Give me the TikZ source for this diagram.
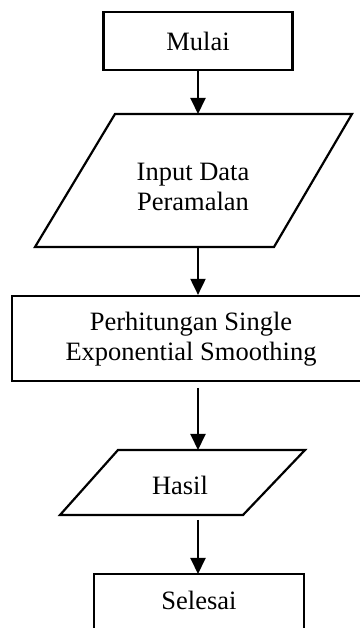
\documentclass[tikz,border=0pt]{standalone}
\usepackage{fontspec}
\setmainfont{Liberation Serif}
\usetikzlibrary{arrows.meta}
\begin{document}
\begin{tikzpicture}[x=1pt,y=1pt,
  shape line/.style={draw=black, line width=2.2pt, line join=miter},
  boxnode/.style={shape line, rectangle, inner sep=0pt, align=center},
  txt/.style={inner sep=0pt, align=center, font=\fontsize{26.5}{30}\selectfont},
  conn/.style={line width=2pt, -{Triangle[length=16pt,width=15pt]}}]
\useasboundingbox (0,0) rectangle (359,628);
% Mulai
\node[boxnode, minimum width=189pt, minimum height=58pt] (mulai) at (198,587) {};
\node[txt] (tmulai) at (198,587) {Mulai};
% Input Data Peramalan
\draw[shape line] (115,514) -- (352,514) -- (274,381) -- (35,381) -- cycle;
\coordinate (inT) at (198,514);
\coordinate (inB) at (198,381);
\node[txt] (tinput) at (193,441) {Input Data\\Peramalan};
% Perhitungan
\node[boxnode, minimum width=373pt, minimum height=85pt] (hitung) at (198.5,289.5) {};
\node[txt] (thitung) at (191,289) {Perhitungan Single\\Exponential Smoothing};
\coordinate (hB) at (198,240);
% Hasil
\draw[shape line] (118,178) -- (305,178) -- (243,113) -- (60,113) -- cycle;
\coordinate (hsT) at (198,178);
\coordinate (hsB) at (198,108);
\node[txt, anchor=base] (thasil) at (180,133) {Hasil};
% Selesai
\node[boxnode, minimum width=210pt, minimum height=58pt] (selesai) at (199,25) {};
\node[txt, anchor=base] (tselesai) at (199,18) {Selesai};
\coordinate (seT) at (198,54);
% connectors
\draw[conn] (mulai.south) -- (inT);
\draw[conn] (inB) -- (hitung.north -| inB);
\draw[conn] (hB) -- (hsT);
\draw[conn] (hsB) -- (seT);
\end{tikzpicture}
\end{document}
